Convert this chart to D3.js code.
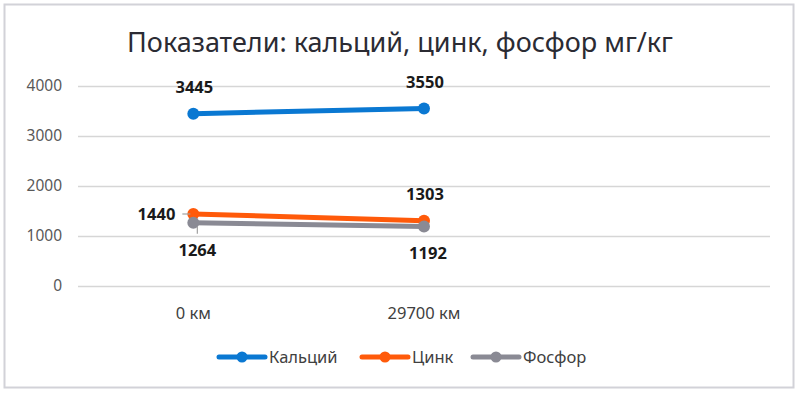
<!DOCTYPE html>
<html>
<head>
<meta charset="utf-8">
<script src="https://cdn.jsdelivr.net/npm/d3@7"></script>
<style>
  body { margin: 0; background: #fff; }
  text { font-family: "Noto Sans", "Open Sans", sans-serif; }
</style>
</head>
<body>
<div id="chart"></div>
<script>
// categories (third slot is empty in the original workbook)
var categories = ["0 км", "29700 км", ""];
var seriesNames = ["Кальций", "Цинк", "Фосфор"];
var calcium = [3445, 3550];
var zinc = [1440, 1303];
var phosphorus = [1264, 1192];
var yTicks = [0, 1000, 2000, 3000, 4000];
var colors = ["#0a78d2", "#ff5a0a", "#8a8a94"];
// where the data label sits relative to its point
var calciumLabels = ["above", "above"];
var zincLabels = ["left", "above"];
var phosphorusLabels = ["below", "below"];

function init() {

    var w = 800;
    var h = 394;
    var left = 78, right = 770, top = 86, bottom = 286;

    var series = [
        { name: seriesNames[0], values: calcium, labels: calciumLabels, color: colors[0] },
        { name: seriesNames[1], values: zinc, labels: zincLabels, color: colors[1] },
        { name: seriesNames[2], values: phosphorus, labels: phosphorusLabels, color: colors[2] }
    ];

    var xScale = d3.scaleBand()
                   .domain(categories)
                   .range([left, right]);

    var yScale = d3.scaleLinear()
                   .domain([0, 4000])
                   .range([bottom, top]);

    var cx = function(i) { return xScale(categories[i]) + xScale.bandwidth() / 2; };

    var svg = d3.select("#chart")
                .append("svg")
                .attr("width", w)
                .attr("height", h)
                .style("background-color", "white");

    // outer frame
    svg.append("rect")
       .attr("x", 4.5)
       .attr("y", 4.5)
       .attr("width", 789)
       .attr("height", 383)
       .attr("fill", "white")
       .attr("stroke", "#d2d2d8")
       .attr("stroke-width", 2);

    // title
    svg.append("text")
       .attr("x", 400)
       .attr("y", 52)
       .attr("text-anchor", "middle")
       .attr("font-size", 27)
       .attr("fill", "#2b2b33")
       .text("Показатели: кальций, цинк, фосфор мг/кг");

    // gridlines + y labels
    var yAxis = d3.axisLeft(yScale)
                  .tickValues(yTicks)
                  .tickSize(-(right - left))
                  .tickPadding(16)
                  .tickFormat(d3.format("d"));

    var gy = svg.append("g")
                .attr("transform", "translate(" + left + ",0)")
                .call(yAxis);
    gy.select(".domain").remove();
    gy.selectAll(".tick line").attr("stroke", "#d6d6d6").attr("stroke-width", 1.3);
    gy.selectAll(".tick text")
      .attr("font-size", 15.5)
      .attr("fill", "#595959")
      .style("font-family", "'Noto Sans', sans-serif");

    // category labels
    var xAxis = d3.axisBottom(xScale).tickSize(0).tickPadding(21);
    var gx = svg.append("g")
                .attr("transform", "translate(0," + bottom + ")")
                .call(xAxis);
    gx.select(".domain").remove();
    gx.selectAll(".tick text")
      .attr("font-size", 16.5)
      .attr("fill", "#404040")
      .style("font-family", "'Noto Sans', sans-serif");

    var line = d3.line()
                 .x(function(d, i) { return cx(i); })
                 .y(function(d) { return yScale(d); });

    // lines and markers
    var groups = svg.selectAll("g.series")
                    .data(series)
                    .enter()
                    .append("g")
                    .attr("class", "series");

    groups.append("path")
          .attr("d", function(s) { return line(s.values); })
          .attr("fill", "none")
          .attr("stroke", function(s) { return s.color; })
          .attr("stroke-width", 5)
          .attr("stroke-linecap", "round");

    groups.selectAll("circle")
          .data(function(s) { return s.values.map(function(v) { return { v: v, color: s.color }; }); })
          .enter()
          .append("circle")
          .attr("cx", function(d, i) { return cx(i); })
          .attr("cy", function(d) { return yScale(d.v); })
          .attr("r", 6)
          .attr("fill", function(d) { return d.color; });

    // data labels
    series.forEach(function(s) {
        s.values.forEach(function(v, i) {
            var px = cx(i), py = yScale(v);
            var pos = s.labels[i];
            var t = svg.append("text")
                       .attr("font-size", 16.5)
                       .attr("font-weight", "bold")
                       .attr("fill", "#1a1a1a")
                       .text(v);
            if (pos == "above") {
                t.attr("x", px + 1).attr("y", py - 21).attr("text-anchor", "middle");
            } else if (pos == "below") {
                t.attr("x", px + 4).attr("y", py + 33).attr("text-anchor", "middle");
                // small leader line
                if (i == 0) {
                    svg.append("line")
                       .attr("x1", px + 4).attr("y1", py + 4)
                       .attr("x2", px + 4).attr("y2", py + 11)
                       .attr("stroke", "#a0a0a0").attr("stroke-width", 1.2);
                }
            } else if (pos == "left") {
                t.attr("x", px - 18).attr("y", py + 6).attr("text-anchor", "end");
                svg.append("line")
                   .attr("x1", px - 11).attr("y1", py)
                   .attr("x2", px - 3).attr("y2", py)
                   .attr("stroke", "#a0a0a0").attr("stroke-width", 1.2);
            }
        });
    });

    // legend
    var legendX = [219, 362, 473];
    var legend = svg.selectAll("g.legend")
                    .data(series)
                    .enter()
                    .append("g")
                    .attr("class", "legend")
                    .attr("transform", function(d, i) { return "translate(" + legendX[i] + ",357)"; });

    legend.append("line")
          .attr("x1", 0).attr("x2", 46)
          .attr("y1", 0).attr("y2", 0)
          .attr("stroke", function(d) { return d.color; })
          .attr("stroke-width", 5)
          .attr("stroke-linecap", "round");
    legend.append("circle")
          .attr("cx", 23)
          .attr("r", 5.5)
          .attr("fill", function(d) { return d.color; });
    legend.append("text")
          .attr("x", 50)
          .attr("y", 6)
          .attr("font-size", 16.5)
          .attr("fill", "#404040")
          .text(function(d) { return d.name; });
}

window.onload = init;
</script>
</body>
</html>
